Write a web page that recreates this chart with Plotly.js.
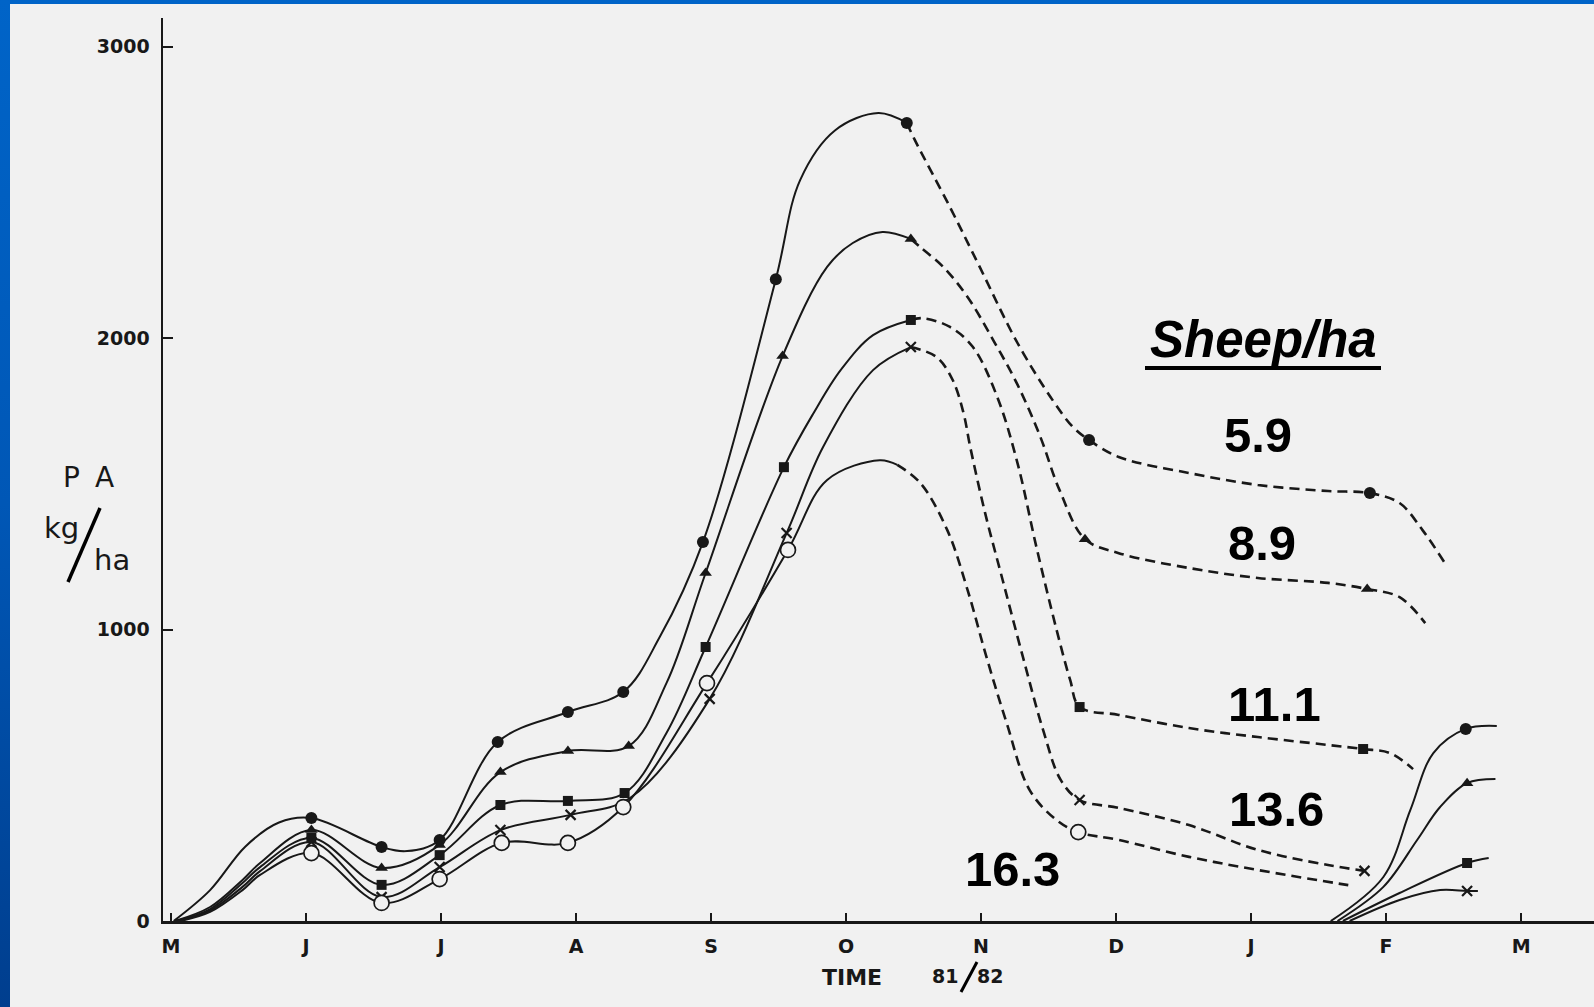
<!DOCTYPE html>
<html><head><meta charset="utf-8">
<script src="https://cdn.plot.ly/plotly-3.0.1.min.js"></script>
<style>
html,body{margin:0;padding:0;width:1594px;height:1007px;overflow:hidden;
background:linear-gradient(to bottom,#0064c8 0%,#0057b6 50%,#003e8e 100%);}
#chart{position:absolute;left:10px;top:4px;width:1584px;height:1003px;background:#f1f1f1;}
</style></head>
<body><div id="chart"></div>
<script>
// ---- data (month index: 0 = May 1981 ... 10 = May 1982; values in kg/ha) ----
const monthTicks = [0,1,2,3,4,5,6,7,8,9,10];
const monthLabels = ['M','J','J','A','S','O','N','D','J','F','M'];
const yTicks = [0,1000,2000,3000];
const stockingRates = ['5.9','8.9','11.1','13.6','16.3'];

// 5.9 sheep/ha (filled circle)
const growth59 = [[0.02,0],[0.29,106],[0.55,255],[0.8,338],[1.04,353],[1.56,254],[1.75,240],[1.99,278],[2.42,614],[2.94,717],[3.35,786],[3.62,974],[3.94,1300],[4.48,2202],[4.66,2542],[4.92,2713],[5.24,2772],[5.45,2738]];
const decline59 = [[5.45,2738],[5.51,2679],[5.77,2449],[5.99,2244],[6.27,1983],[6.53,1787],[6.68,1695],[6.80,1650],[7.02,1592],[7.54,1537],[8.05,1496],[8.57,1475],[8.88,1468],[9.10,1434],[9.27,1341],[9.43,1232]];
const regrowth59 = [[8.59,0],[8.98,151],[9.18,381],[9.35,576],[9.59,659],[9.82,669]];
const marks59 = [[1.04,353],[1.56,254],[1.99,278],[2.42,614],[2.94,717],[3.35,786],[3.94,1300],[4.48,2202],[5.45,2738],[6.80,1650],[8.88,1468],[9.59,659]];

// 8.9 sheep/ha (filled triangle)
const growth89 = [[0.03,0],[0.29,48],[0.53,141],[0.66,199],[1.04,312],[1.56,182],[1.99,261],[2.44,511],[2.94,583],[3.39,600],[3.67,816],[3.96,1194],[4.53,1938],[4.86,2244],[5.05,2326],[5.27,2364],[5.48,2340]];
const decline89 = [[5.48,2340],[5.55,2312],[5.72,2244],[5.90,2141],[6.09,1993],[6.27,1840],[6.44,1660],[6.58,1480],[6.77,1310],[7.02,1262],[7.54,1211],[8.05,1177],[8.57,1160],[8.86,1139],[9.10,1111],[9.29,1022]];
const regrowth89 = [[8.64,0],[8.98,117],[9.23,278],[9.40,391],[9.60,473],[9.81,487]];
const marks89 = [[1.04,312],[1.56,182],[1.99,261],[2.44,511],[2.94,583],[3.39,600],[3.96,1194],[4.53,1938],[5.48,2340],[6.77,1310],[8.86,1139],[9.60,473]];

// 11.1 sheep/ha (filled square)
const growth111 = [[0.04,0],[0.29,41],[0.53,130],[0.66,185],[1.04,285],[1.56,124],[1.99,226],[2.44,398],[2.94,412],[3.36,439],[3.67,645],[3.96,940],[4.54,1557],[4.76,1743],[4.96,1890],[5.20,2010],[5.48,2062]];
const decline111 = [[5.48,2062],[5.57,2068],[5.77,2038],[5.94,1969],[6.12,1798],[6.27,1571],[6.41,1283],[6.56,998],[6.66,827],[6.73,734],[7.02,707],[7.54,662],[8.05,631],[8.57,604],[8.83,590],[9.03,576],[9.20,521]];
const regrowth111 = [[8.68,0],[9.10,96],[9.60,199],[9.76,216]];
const marks111 = [[1.04,285],[1.56,124],[1.99,226],[2.44,398],[2.94,412],[3.36,439],[3.96,940],[4.54,1557],[5.48,2062],[6.73,734],[8.83,590],[9.60,199]];

// 13.6 sheep/ha (cross)
const growth136 = [[0.05,0],[0.29,36],[0.53,117],[0.66,171],[1.04,271],[1.56,82],[1.99,185],[2.44,312],[2.96,364],[3.40,422],[3.99,762],[4.56,1331],[4.83,1626],[5.20,1890],[5.48,1969]];
const decline136 = [[5.48,1969],[5.67,1935],[5.79,1856],[5.87,1743],[5.92,1626],[6.03,1400],[6.16,1170],[6.31,906],[6.46,655],[6.59,484],[6.73,415],[7.02,388],[7.54,329],[8.05,244],[8.57,192],[8.84,172]];
const regrowth136 = [[8.73,0],[9.10,72],[9.40,106],[9.60,103],[9.68,103]];
const marks136 = [[1.04,271],[1.56,82],[1.99,185],[2.44,312],[2.96,364],[3.99,762],[4.56,1331],[5.48,1969],[6.73,415],[8.84,172],[9.60,103]];

// 16.3 sheep/ha (open circle)
const growth163 = [[0.07,0],[0.29,31],[0.53,106],[0.66,158],[1.04,233],[1.56,62],[1.99,144],[2.45,268],[2.94,268],[3.35,391],[3.97,816],[4.57,1273],[4.86,1513],[5.25,1581],[5.38,1565]];
const decline163 = [[5.38,1565],[5.55,1503],[5.75,1341],[5.90,1136],[6.04,906],[6.19,679],[6.36,449],[6.56,346],[6.72,305],[7.02,278],[7.54,220],[8.05,175],[8.72,123]];
const marks163 = [[1.04,233],[1.56,62],[1.99,144],[2.45,268],[2.94,268],[3.35,391],[3.97,816],[4.57,1273],[6.72,305]];

// ---- styling ----
const INK = '#181818';
const PAPER = '#f1f1f1';
const xs = a => a.map(p => p[0]);
const ys = a => a.map(p => p[1]);

function lineTrace(pts, dashed, name){
  return {x: xs(pts), y: ys(pts), mode:'lines', name: name, showlegend:false, hoverinfo:'skip',
    line:{color:INK, width: dashed ? 2.6 : 2, shape:'spline', smoothing:1, dash: dashed ? '10px,6px' : 'solid'}};
}
function markTrace(pts, marker, name){
  return {x: xs(pts), y: ys(pts), mode:'markers', name: name, showlegend:false, hoverinfo:'skip', marker: marker, cliponaxis:false};
}

const traces = [
  lineTrace(growth59,false,stockingRates[0]), lineTrace(decline59,true,stockingRates[0]), lineTrace(regrowth59,false,stockingRates[0]),
  lineTrace(growth89,false,stockingRates[1]), lineTrace(decline89,true,stockingRates[1]), lineTrace(regrowth89,false,stockingRates[1]),
  lineTrace(growth111,false,stockingRates[2]), lineTrace(decline111,true,stockingRates[2]), lineTrace(regrowth111,false,stockingRates[2]),
  lineTrace(growth136,false,stockingRates[3]), lineTrace(decline136,true,stockingRates[3]), lineTrace(regrowth136,false,stockingRates[3]),
  lineTrace(growth163,false,stockingRates[4]), lineTrace(decline163,true,stockingRates[4]),
  markTrace(marks59, {symbol:'circle', size:12, color:INK}, stockingRates[0]),
  markTrace(marks89, {symbol:'triangle-up', size:11, color:INK}, stockingRates[1]),
  markTrace(marks111, {symbol:'square', size:10, color:INK}, stockingRates[2]),
  markTrace(marks136, {symbol:'x-thin', size:10, color:INK, line:{color:INK, width:2.2}}, stockingRates[3]),
  markTrace(marks163, {symbol:'circle', size:15, color:PAPER, line:{color:INK, width:1.7}}, stockingRates[4])
];

// page-pixel -> paper helper (plot area spans page x 163..1594, y 18..921)
const PX = x => (x - 163) / 1431;
const PY = y => (921 - y) / 903;

function label(text, x, y, size, opts){
  opts = opts || {};
  return {text: text, x: PX(x), y: PY(y), xref:'paper', yref:'paper', showarrow:false,
    xanchor:'center', yanchor:'middle',
    font:{family: opts.family || 'DejaVu Sans', size: size, color: opts.color || INK,
          weight: opts.weight || 'normal', style: opts.style || 'normal'}};
}
const ARIAL = 'Liberation Sans, Arial, sans-serif';

const annotations = [
  label('Sheep/ha', 1263, 340, 51, {family:ARIAL, weight:'bold', style:'italic', color:'#000'}),
  label(stockingRates[0], 1258, 435, 49, {family:ARIAL, weight:'bold', color:'#000'}),
  label(stockingRates[1], 1262, 543, 49, {family:ARIAL, weight:'bold', color:'#000'}),
  label(stockingRates[2], 1274, 704, 49, {family:ARIAL, weight:'bold', color:'#000'}),
  label(stockingRates[3], 1276, 809, 49, {family:ARIAL, weight:'bold', color:'#000'}),
  label(stockingRates[4], 1013, 869, 49, {family:ARIAL, weight:'bold', color:'#000'}),
  label('P', 71, 477, 28),
  label('A', 104, 477, 28),
  label('kg', 61, 528, 29),
  label('ha', 112, 560, 29),
  label('TIME', 852, 977, 22, {weight:'bold'}),
  label('81', 945, 976, 19, {weight:'bold'}),
  label('82', 990, 976, 19, {weight:'bold'})
];

function seg(x0,y0,x1,y1,w){
  return {type:'line', xref:'paper', yref:'paper', x0:PX(x0), y0:PY(y0), x1:PX(x1), y1:PY(y1),
          line:{color:'#000', width:w}};
}
const shapes = [
  seg(1145, 368, 1381, 368, 4),   // underline of Sheep/ha
  seg(100, 508, 68, 582, 3.5),    // kg/ha slash
  seg(977, 962, 961, 992, 3)      // 81/82 slash
];

const tickFontX = {family:'DejaVu Sans', size:19, color:INK, weight:'bold'};
const tickFontY = {family:'DejaVu Sans', size:19, color:INK, weight:'bold'};

const layout = {
  width:1584, height:1003,
  margin:{l:153, r:0, t:14, b:86, pad:0},
  paper_bgcolor:PAPER, plot_bgcolor:PAPER,
  showlegend:false, hovermode:false,
  xaxis:{range:[-0.059, 10.54], tickmode:'array', tickvals:monthTicks, ticktext:monthLabels,
         ticks:'inside', ticklen:8, tickwidth:2, tickcolor:INK,
         showline:true, linewidth:3, linecolor:INK, showgrid:false, zeroline:false,
         tickfont:tickFontX, ticklabelstandoff:6, fixedrange:true},
  yaxis:{range:[0, 3098], tickmode:'array', tickvals:yTicks, ticktext:yTicks.map(String),
         ticks:'inside', ticklen:10, tickwidth:2, tickcolor:INK,
         showline:true, linewidth:2.5, linecolor:INK, showgrid:false, zeroline:false,
         tickfont:tickFontY, ticklabelstandoff:7, fixedrange:true},
  annotations: annotations,
  shapes: shapes
};

Plotly.newPlot('chart', traces, layout, {displayModeBar:false, staticPlot:true});
</script>
</body></html>
